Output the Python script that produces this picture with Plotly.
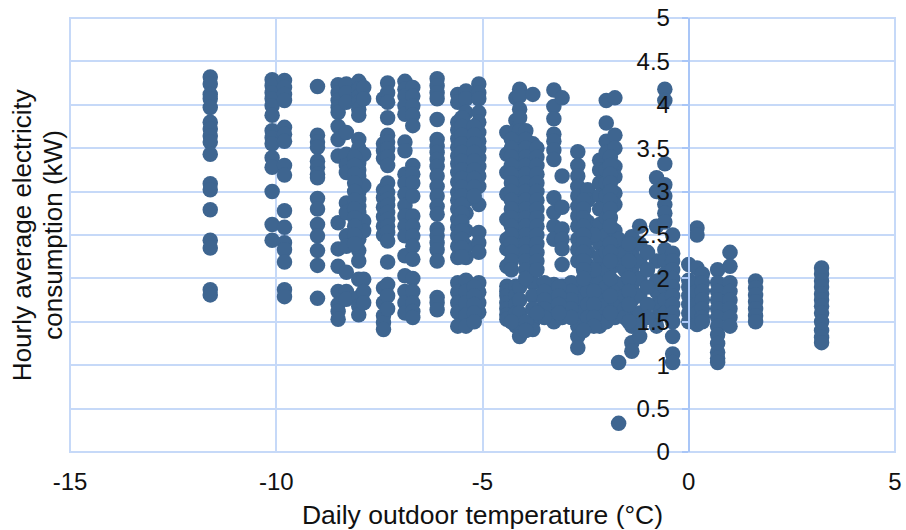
import plotly.graph_objects as go

# Daily outdoor temperature (°C) of each vertical column, and the readings in it (kW)
t01 = -11.6; y01 = [4.32,4.24,4.12,4.07,3.97,3.8,3.72,3.64,3.57,3.43,3.09,3.02,2.79,2.44,2.35,1.87,1.81]
t02 = -10.1; y02 = [4.29,4.22,4.14,4.07,3.99,3.88,3.7,3.62,3.55,3.39,3.28,3.0,2.62,2.44]
t03 = -9.8;  y03 = [4.28,4.2,4.12,4.05,3.74,3.66,3.58,3.3,3.19,2.78,2.59,2.41,2.33,2.19,1.87,1.79]
t04 = -9.0;  y04 = [4.21,3.65,3.57,3.51,3.35,3.28,3.2,3.16,2.92,2.8,2.62,2.49,2.32,2.15,1.77]
t05 = -8.5;  y05 = [4.23,4.14,4.05,3.97,3.91,3.75,3.6,3.41,2.64,2.34,2.14,1.85,1.7,1.62,1.53]
t06 = -8.3;  y06 = [4.24,4.14,4.03,3.68,3.43,3.3,3.22,2.87,2.76,2.49,2.37,2.07,1.85,1.76]
t07 = -8.0;  y07 = [4.27,4.18,4.1,4.03,3.95,3.88,3.6,3.5,3.41,3.33,3.25,3.18,3.06,2.99,2.91,2.83,2.76,2.68,2.6,2.52,2.45,2.32,2.2,1.99,1.78,1.68,1.58]
t08 = -7.88; y08 = [4.2,4.07,3.43,3.07,2.66,2.55,1.99,1.85,1.72]
t09 = -7.4;  y09 = [4.07,3.55,3.47,3.38,3.02,2.93,2.82,2.71,2.6,2.5,1.89,1.72,1.57,1.49,1.41]
t10 = -7.3;  y10 = [4.25,4.14,4.03,3.85,3.65,3.57,3.49,3.4,3.3,3.1,2.99,2.91,2.84,2.76,2.68,2.6,2.53,2.43,2.19,1.93,1.8,1.65]
t11 = -6.88; y11 = [4.27,4.18,4.1,3.99,3.89,3.57,3.47,3.2,3.1,2.97,2.84,2.72,2.6,2.49,2.26,2.03,1.85,1.72,1.6]
t12 = -6.69; y12 = [4.2,4.1,3.99,3.88,3.76,3.3,3.2,3.1,2.95,2.72,2.6,2.49,2.37,2.22,2.0,1.85,1.72,1.62,1.55]
t13 = -6.1;  y13 = [4.3,4.22,4.14,4.07,3.83,3.6,3.52,3.45,3.37,3.29,3.18,3.06,2.95,2.83,2.74,2.57,2.49,2.41,2.33,2.2,1.78,1.72,1.64]
t14 = -5.6;  y14 = [4.12,4.03,3.8,3.71,3.61,3.51,3.41,3.32,3.22,3.11,2.99,2.9,2.8,2.68,2.59,2.49,2.37,2.24,1.95,1.84,1.72,1.61,1.45]
t15 = -5.4;  y15 = [4.16,4.07,3.91,3.76,3.64,3.5,3.36,3.2,3.05,2.9,2.75,2.55,2.37,2.24,1.98,1.85,1.72,1.58,1.45]
t16 = -5.09; y16 = [4.24,4.14,4.07,3.91,3.8,3.68,3.58,3.49,3.39,3.29,3.18,3.06,2.85,2.53,2.41,2.3,1.95,1.84,1.72,1.61]
t17 = -4.41; y17 = [3.68,3.43,3.22,2.97,2.68,2.45,2.34,2.14,1.91,1.85,1.8,1.72,1.65,1.58,1.53]
t18 = -4.19; y18 = [4.08,3.82,3.7,3.55,3.4,3.25,3.1,2.95,2.8,2.65,2.5,2.35,1.91,1.8,1.7,1.6,1.45]
t19 = -4.1;  y19 = [4.18,4.1,3.95,3.85,3.7,3.6,3.45,3.3,3.15,3.0,2.85,2.7,2.55,2.4,2.3,1.9,1.75,1.6,1.45,1.33]
t20 = -3.78; y20 = [4.12,3.55,3.4,3.3,3.15,3.0,2.85,2.7,2.55,2.4,2.25,2.1,1.95,1.8,1.65,1.5,1.41]
t21 = -3.27; y21 = [4.17,3.98,3.84,3.66,3.58,3.48,3.37,2.93,2.76,2.6,2.45,1.93,1.8,1.7,1.6,1.5]
t22 = -3.07; y22 = [4.08,3.18,2.82,2.57,2.45,2.34,2.16,1.91,1.8,1.7,1.55]
t23 = -2.69; y23 = [3.46,3.3,3.18,3.06,2.95,2.83,2.72,2.6,2.45,2.33,2.2,1.9,1.75,1.6,1.45,1.33,1.2]
t24 = -2.45; y24 = [3.02,2.9,2.65,2.45,2.3,2.15,2.0,1.85,1.7,1.55]
t25 = -2.16; y25 = [3.36,3.25,3.1,2.95,2.8,2.62,2.4,2.25,2.1,1.95,1.8,1.65,1.5,1.45]
t26 = -2.0;  y26 = [4.05,3.79,3.58,3.45,3.25,3.1,2.95,2.7,2.5,2.3,2.1,1.9,1.7,1.5]
t27 = -1.79; y27 = [4.08,3.65,3.5,3.29,3.17,2.98,2.85,2.55,2.35,2.15,1.95,1.75,1.55]
t28 = -1.7;  y28 = [2.45,2.2,1.9,1.7,1.03,0.33]
t29 = -1.38; y29 = [2.48,2.3,2.1,1.9,1.75,1.6,1.45,1.26,1.16]
t30 = -1.19; y30 = [2.6,2.4,2.2,2.0,1.8,1.6,1.45,1.33]
t31 = -0.78; y31 = [3.16,3.0,2.6,2.2,1.97,1.85,1.7,1.55,1.45]
t32 = -0.58; y32 = [4.18,4.05,3.32,3.08,2.95,2.85,2.75,2.65,2.33,2.2,2.05,1.9,1.75,1.6]
t33 = -0.39; y33 = [2.5,2.29,2.2,2.1,2.0,1.9,1.8,1.7,1.6,1.5,1.33,1.13,1.03]
t34 = 0.0;   y34 = [2.16,1.98,1.9,1.8,1.7,1.6,1.5]
t35 = 0.2;   y35 = [2.58,2.5,2.12,1.95,1.85,1.7,1.6,1.47]
t36 = 0.33;  y36 = [2.05,1.95,1.85,1.75,1.65,1.55,1.5]
t37 = 0.7;   y37 = [2.1,1.95,1.85,1.75,1.65,1.55,1.45,1.35,1.25,1.15,1.08,1.03]
t38 = 1.0;   y38 = [2.3,2.14,1.95,1.85,1.75,1.65,1.55,1.45]
t39 = 1.62;  y39 = [1.97,1.89,1.81,1.73,1.65,1.57,1.5]
t40 = 3.22;  y40 = [2.12,2.05,1.97,1.9,1.82,1.75,1.68,1.6,1.5,1.4,1.32,1.26]
# columns that fill the dense parts of the cloud
t41 = -3.5;  y41 = [1.95,1.85,1.75,1.65,1.55]
t42 = -2.85; y42 = [1.95,1.85,1.75,1.65,1.55]
t43 = -2.3;  y43 = [2.5,2.1,1.85,1.7,1.55,1.45]
t44 = -1.55; y44 = [2.3,2.1,1.95,1.8,1.65,1.55]
t45 = -1.0;  y45 = [2.3,2.1,1.9,1.7,1.55]
t46 = -5.5;  y46 = [3.85,3.75,3.65,3.55,3.45,3.35,3.25,3.15,3.05,2.95,2.85,2.75,2.65,2.55,2.45,2.35,2.25]
t47 = -5.2;  y47 = [3.75,3.65,3.55,3.45,3.35,3.25,3.15,3.05,2.95,1.9,1.8,1.7,1.6,1.5]
t48 = -3.95; y48 = [3.7,3.6,3.5,3.4,3.3,3.2,3.1,3.0,2.9,2.8,2.7,2.6,2.5,2.4,2.3,2.2,2.1,2.0,1.5,1.4]
t49 = -3.68; y49 = [3.5,3.4,3.3,3.2,3.1,3.0,2.9,2.8,2.7,2.6,2.5,2.4,2.3,2.2,2.1,1.6]
t50 = -4.3;  y50 = [3.6,3.5,3.4,3.3,3.2,3.1,3.0,2.9,2.8,2.7,2.6,2.5,2.4,2.3,2.2,2.1,1.5]
t51 = -8.1;  y51 = [3.4,3.3,3.2,3.1,3.0,2.9,2.8,2.7,2.6,2.5,2.4]
t52 = -2.55; y52 = [2.9,2.8,2.7,2.6,2.5,2.4,2.3,2.2,2.1,2.0,1.4]
t53 = -1.9;  y53 = [3.4,3.3,3.2,3.1,3.0,2.9,2.8,2.7,2.6,2.4,2.3,2.2,2.0,1.8,1.6]
t54 = -1.45; y54 = [2.4,2.2,2.0,1.85,1.7,1.5]
t55 = -3.15; y55 = [1.9,1.8,1.7,1.6]

columns = [(t01,y01),(t02,y02),(t03,y03),(t04,y04),(t05,y05),(t06,y06),(t07,y07),(t08,y08),
           (t09,y09),(t10,y10),(t11,y11),(t12,y12),(t13,y13),(t14,y14),(t15,y15),(t16,y16),
           (t17,y17),(t18,y18),(t19,y19),(t20,y20),(t21,y21),(t22,y22),(t23,y23),(t24,y24),
           (t25,y25),(t26,y26),(t27,y27),(t28,y28),(t29,y29),(t30,y30),(t31,y31),(t32,y32),
           (t33,y33),(t34,y34),(t35,y35),(t36,y36),(t37,y37),(t38,y38),(t39,y39),(t40,y40),
           (t41,y41),(t42,y42),(t43,y43),(t44,y44),(t45,y45),(t46,y46),(t47,y47),(t48,y48),
           (t49,y49),(t50,y50),(t51,y51),(t52,y52),(t53,y53),(t54,y54),(t55,y55)]

temperature = [t for t, ys in columns for _ in ys]
consumption = [v for _, ys in columns for v in ys]

x_ticks = [-15, -10, -5, 0, 5]
x_labels = ["-15", "-10", "-5", "0", "5"]
y_ticks = [0, 0.5, 1, 1.5, 2, 2.5, 3, 3.5, 4, 4.5, 5]
y_labels = ["0", "0.5", "1", "1.5", "2", "2.5", "3", "3.5", "4", "4.5", "5"]

GRID = "#c6d9f8"
AXIS = "#a9c6f7"
FONT = "Liberation Sans, Arial, sans-serif"
INK = "#111111"

fig = go.Figure(go.Scatter(
    x=temperature, y=consumption, mode="markers",
    marker=dict(size=15.5, color="#3e6590"), showlegend=False, cliponaxis=False))

fig.update_layout(
    width=906, height=530, margin=dict(l=70, r=11, t=18, b=78, pad=0, autoexpand=False),
    plot_bgcolor="white", paper_bgcolor="white",
    font=dict(family=FONT, size=24, color=INK),
    xaxis=dict(range=[-15, 5], tickvals=x_ticks, ticktext=x_labels, showgrid=True, gridcolor=GRID, gridwidth=2,
               zeroline=False, showline=False, ticks="", ticklabelstandoff=13, ticklabeloverflow="allow",
               title=dict(text="Daily outdoor temperature (°C)", standoff=15, font=dict(size=26.5)),
               automargin=False),
    yaxis=dict(range=[0, 5], tickvals=y_ticks, ticktext=y_labels, showgrid=True, gridcolor=GRID, gridwidth=2,
               zeroline=False, showline=True, linecolor=AXIS, linewidth=2,
               anchor="free", position=0.75, ticks="outside", ticklen=6, tickcolor=AXIS, tickwidth=2,
               ticklabelstandoff=7, ticklabeloverflow="allow", automargin=False),
    shapes=[dict(type="rect", xref="paper", yref="paper", x0=0, x1=1, y0=0, y1=1,
                 line=dict(color=GRID, width=2), fillcolor="rgba(0,0,0,0)", layer="below")],
    annotations=[
        dict(text="Hourly average electricity", textangle=-90, xref="paper", yref="paper",
             x=-0.058, y=0.5, xanchor="center", yanchor="middle", showarrow=False,
             font=dict(size=26, family=FONT, color=INK)),
        dict(text="consumption (kW)", textangle=-90, xref="paper", yref="paper",
             x=-0.021, y=0.5, xanchor="center", yanchor="middle", showarrow=False,
             font=dict(size=26, family=FONT, color=INK)),
    ],
)
fig.write_html("out.html", config={"displayModeBar": False},
               post_script="document.body.style.margin='0';")
